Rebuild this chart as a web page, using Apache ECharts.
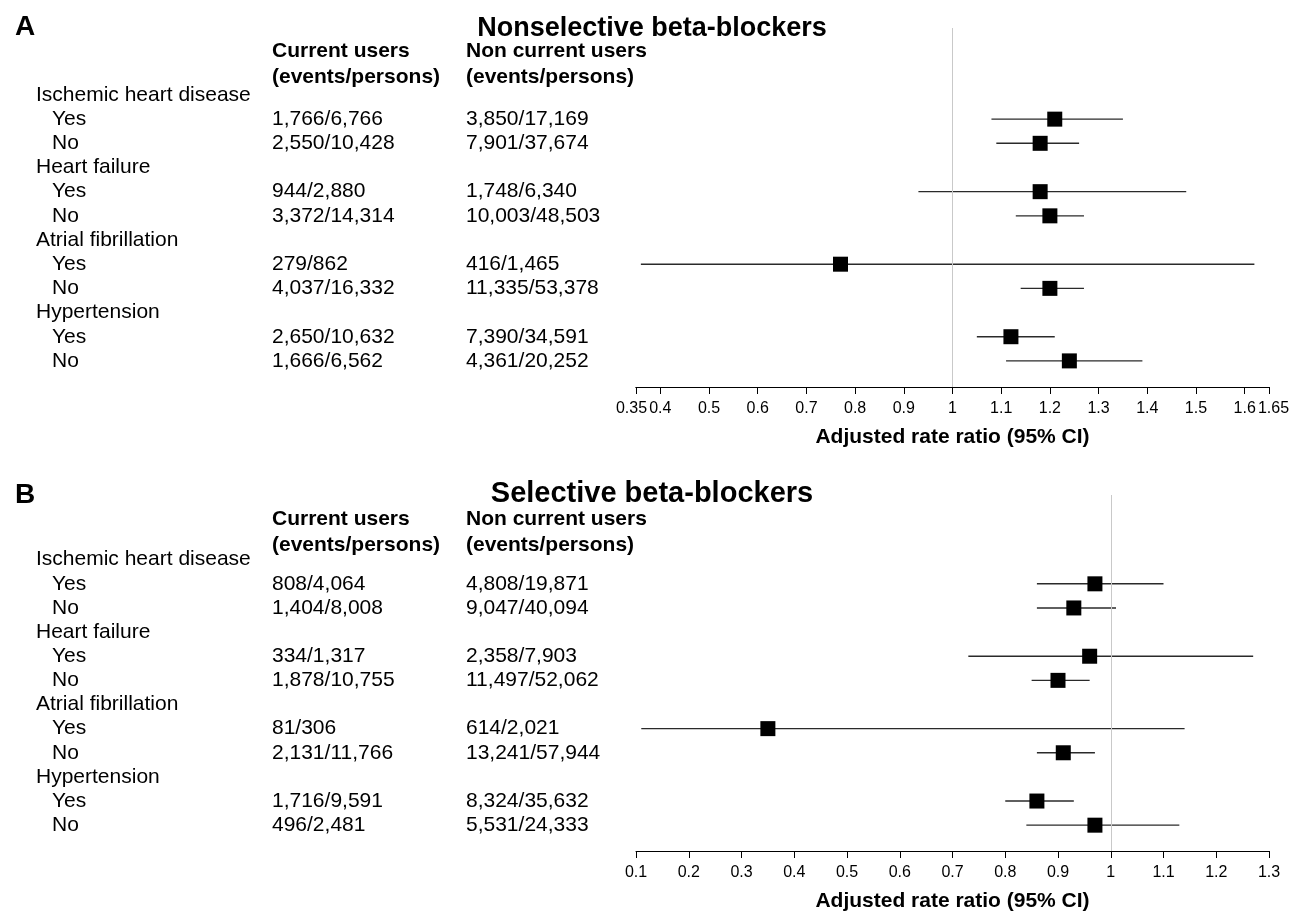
<!DOCTYPE html>
<html><head><meta charset="utf-8">
<script src="https://cdn.jsdelivr.net/npm/echarts@6/dist/echarts.min.js"></script>
<style>html,body{margin:0;padding:0;background:#fff}#c{width:1304px;height:913px}</style>
</head><body><div id="c"></div>
<script>
// ---------- data ----------
const groupLabels = ['Ischemic heart disease', 'Heart failure', 'Atrial fibrillation', 'Hypertension'];
const subLabels = ['Yes', 'No'];
const headerCurrent = ['Current users', '(events/persons)'];
const headerNonCurrent = ['Non current users', '(events/persons)'];
const axisTitle = 'Adjusted rate ratio (95% CI)';

// Panel A: Nonselective beta-blockers
const nsCurrent = ['1,766/6,766', '2,550/10,428', '944/2,880', '3,372/14,314', '279/862', '4,037/16,332', '2,650/10,632', '1,666/6,562'];
const nsNonCurrent = ['3,850/17,169', '7,901/37,674', '1,748/6,340', '10,003/48,503', '416/1,465', '11,335/53,378', '7,390/34,591', '4,361/20,252'];
const nsRR = [1.21, 1.18, 1.18, 1.20, 0.77, 1.20, 1.12, 1.24];
const nsLo = [1.08, 1.09, 0.93, 1.13, 0.36, 1.14, 1.05, 1.11];
const nsHi = [1.35, 1.26, 1.48, 1.27, 1.62, 1.27, 1.21, 1.39];
const nsTicks = [0.4, 0.5, 0.6, 0.7, 0.8, 0.9, 1, 1.1, 1.2, 1.3, 1.4, 1.5, 1.6];
const nsEndTicks = [0.35, 1.65];

// Panel B: Selective beta-blockers
const sCurrent = ['808/4,064', '1,404/8,008', '334/1,317', '1,878/10,755', '81/306', '2,131/11,766', '1,716/9,591', '496/2,481'];
const sNonCurrent = ['4,808/19,871', '9,047/40,094', '2,358/7,903', '11,497/52,062', '614/2,021', '13,241/57,944', '8,324/35,632', '5,531/24,333'];
const sRR = [0.97, 0.93, 0.96, 0.90, 0.35, 0.91, 0.86, 0.97];
const sLo = [0.86, 0.86, 0.73, 0.85, 0.11, 0.86, 0.80, 0.84];
const sHi = [1.10, 1.01, 1.27, 0.96, 1.14, 0.97, 0.93, 1.13];
const sTicks = [0.1, 0.2, 0.3, 0.4, 0.5, 0.6, 0.7, 0.8, 0.9, 1, 1.1, 1.2, 1.3];

// ---------- build ----------
const FONT = 'Liberation Sans, Arial, Helvetica, sans-serif';
const chart = echarts.init(document.getElementById('c'), null, {renderer: 'canvas'});

function subRow(k) { return Math.floor(k / 2) * 3 + 1 + (k % 2); }

function tableRows(cur, non) {
  const rows = [];
  groupLabels.forEach((g, gi) => {
    rows.push({row: gi * 3, label: g, indent: false, cur: '', non: ''});
    subLabels.forEach((s, si) => {
      const k = gi * 2 + si;
      rows.push({row: gi * 3 + 1 + si, label: s, indent: true, cur: cur[k], non: non[k]});
    });
  });
  return rows;
}

function panelSeries(idx, rr, lo, hi, cur, non, xmin) {
  const rows = tableRows(cur, non);
  return [
    {
      type: 'custom', xAxisIndex: idx, yAxisIndex: idx, silent: true, clip: false,
      data: rows.map(r => [xmin, r.row]),
      renderItem: function (params, api) {
        const r = rows[params.dataIndex];
        const y = api.coord([api.value(0), api.value(1)])[1];
        const st = {fill: '#000', font: '21px ' + FONT, textVerticalAlign: 'middle', textBaseline: 'middle'};
        const kids = [
          {type: 'text', style: Object.assign({}, st, {x: r.indent ? 52 : 36, y: y, text: r.label})}
        ];
        if (r.cur) kids.push({type: 'text', style: Object.assign({}, st, {x: 272, y: y, text: r.cur})});
        if (r.non) kids.push({type: 'text', style: Object.assign({}, st, {x: 466, y: y, text: r.non})});
        return {type: 'group', children: kids};
      }
    },
    {
      type: 'custom', xAxisIndex: idx, yAxisIndex: idx, silent: true, clip: false, z: 3,
      data: rr.map((v, k) => [lo[k], hi[k], subRow(k)]),
      renderItem: function (params, api) {
        const a = api.coord([api.value(0), api.value(2)]);
        const b = api.coord([api.value(1), api.value(2)]);
        return {type: 'line', shape: {x1: a[0], y1: a[1], x2: b[0], y2: b[1]},
                style: {stroke: '#2a2a2a', lineWidth: 1.4}};
      }
    },
    {
      type: 'scatter', xAxisIndex: idx, yAxisIndex: idx, silent: true, z: 4,
      symbol: 'rect', symbolSize: 15,
      itemStyle: {color: '#000', opacity: 1},
      data: rr.map((v, k) => [v, subRow(k)]),
      markLine: {
        silent: true, symbol: 'none', label: {show: false},
        lineStyle: {color: '#c9c9c9', width: 1, type: 'solid'},
        data: [{xAxis: 1}]
      }
    }
  ];
}

function fmt(v) { return String(+(+v).toFixed(2)); }

function xAxisCfg(idx, min, max, ticks, withName, endNudge) {
  const label = {show: true, color: '#000', fontSize: 16, fontFamily: FONT, margin: 14,
    showMinLabel: true, showMaxLabel: true, hideOverlap: false,
    customValues: ticks, formatter: fmt};
  if (endNudge) {
    // nudge the two end labels outward so they clear their neighbours
    label.formatter = function (v) {
      return (+v < (min + max) / 2 ? '{l|' : '{r|') + fmt(v) + '}';
    };
    label.rich = {
      l: {fontSize: 16, fontFamily: FONT, color: '#000', padding: [0, 9, 0, 0]},
      r: {fontSize: 16, fontFamily: FONT, color: '#000', padding: [0, 0, 0, 9]}
    };
  }
  return {
    type: 'value', gridIndex: idx, min: min, max: max, position: 'bottom', offset: 0,
    splitLine: {show: false},
    axisLine: {show: true, onZero: false, lineStyle: {color: '#000', width: 1}},
    axisTick: {show: true, length: 7, lineStyle: {color: '#000'}, customValues: ticks},
    axisLabel: label,
    name: withName ? axisTitle : '', nameLocation: 'middle', nameGap: 40,
    nameTextStyle: {color: '#000', fontSize: 21, fontWeight: 'bold', fontFamily: FONT}
  };
}
function yAxisCfg(idx, min, max) {
  return {type: 'value', gridIndex: idx, inverse: true, min: min, max: max, show: false};
}

function headerTexts(yTop) {
  const st = {fill: '#000', font: 'bold 21px ' + FONT};
  const out = [];
  headerCurrent.forEach((t, i) => out.push({type: 'text', left: 272, top: yTop + i * 26 - 11, style: Object.assign({}, st, {text: t})}));
  headerNonCurrent.forEach((t, i) => out.push({type: 'text', left: 466, top: yTop + i * 26 - 11, style: Object.assign({}, st, {text: t})}));
  return out;
}

const option = {
  backgroundColor: '#fff',
  animation: false,
  textStyle: {fontFamily: FONT},
  title: [
    {text: 'A', left: 10, top: 8, textStyle: {fontSize: 28, fontWeight: 'bold', color: '#000', fontFamily: FONT}},
    {text: 'Nonselective beta-blockers', left: 'center', top: 10, textStyle: {fontSize: 27, fontWeight: 'bold', color: '#000', fontFamily: FONT}},
    {text: 'B', left: 10, top: 476, textStyle: {fontSize: 28, fontWeight: 'bold', color: '#000', fontFamily: FONT}},
    {text: 'Selective beta-blockers', left: 'center', top: 474, textStyle: {fontSize: 29, fontWeight: 'bold', color: '#000', fontFamily: FONT}}
  ],
  graphic: headerTexts(52).concat(headerTexts(520)),
  grid: [
    {left: 636, right: 35, top: 28, height: 359},
    {left: 636, right: 35, top: 495, height: 358}
  ],
  xAxis: [
    xAxisCfg(0, 0.35, 1.65, nsTicks, true, false),
    xAxisCfg(1, 0.1, 1.3, sTicks, true, false),
    xAxisCfg(0, 0.35, 1.65, nsEndTicks, false, true)
  ],
  yAxis: [yAxisCfg(0, -2.77, 12.08), yAxisCfg(1, -2.68, 12.07)],
  series: panelSeries(0, nsRR, nsLo, nsHi, nsCurrent, nsNonCurrent, 0.35)
    .concat(panelSeries(1, sRR, sLo, sHi, sCurrent, sNonCurrent, 0.1))
};
chart.setOption(option);
</script>
</body></html>
